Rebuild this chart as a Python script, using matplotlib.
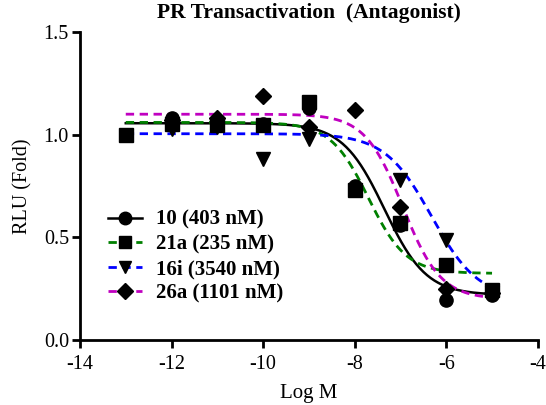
import matplotlib
matplotlib.use("Agg")
import matplotlib.pyplot as plt
import numpy as np

plt.rcParams["font.family"] = ["Liberation Serif", "DejaVu Serif"]

# concentrations (log M)
logM = [-13, -12, -11, -10, -9, -8, -7, -6, -5]

# measured RLU (fold) per compound
rlu_10 = [None, 1.08, 1.05, 1.05, 1.13, 0.75, 0.56, 0.195, 0.22]
rlu_21a = [1.00, 1.05, 1.045, 1.045, 1.16, 0.73, 0.57, 0.365, 0.245]
rlu_16i = [None, 1.03, 1.04, 0.88, 0.98, None, 0.78, 0.49, 0.23]
rlu_26a = [None, 1.07, 1.08, 1.19, 1.04, 1.12, 0.65, 0.25, 0.23]

# fitted 4PL parameters: top, bottom, logEC50, hill
fit_10 = (1.056, 0.22, -7.35, 0.95)
fit_21a = (1.06, 0.325, -7.7, 1.05)
fit_16i = (1.005, 0.20, -6.32, 0.85)
fit_26a = (1.10, 0.20, -6.95, 1.05)

labels = ["10 (403 nM)", "21a (235 nM)", "16i (3540 nM)", "26a (1101 nM)"]
colors = ["black", "#008000", "#0000ff", "#c000c0"]
markers = ["o", "s", "v", "D"]


def four_pl(x, top, bottom, ec50, hill):
    return bottom + (top - bottom) / (1 + 10 ** ((x - ec50) * hill))


fig = plt.figure(figsize=(5.46, 4.05), dpi=100)
ax = fig.add_axes([0.1465, 0.160, 0.8385, 0.761])

xs = np.linspace(-13, -5, 300)
series = [rlu_10, rlu_21a, rlu_16i, rlu_26a]
fits = [fit_10, fit_21a, fit_16i, fit_26a]

for i, (vals, fit) in enumerate(zip(series, fits)):
    ls = "-" if i == 0 else (0, (3, 2))
    lw = 1.8 if i == 0 else 2.0
    ax.plot(xs, four_pl(xs, *fit), color=colors[i], linestyle=ls, linewidth=lw, zorder=2)
    px = [x for x, v in zip(logM, vals) if v is not None]
    py = [v for v in vals if v is not None]
    ms = 8.5 if markers[i] == "D" else 9.5
    ax.plot(px, py, linestyle="none", marker=markers[i], markersize=ms,
            color="black", zorder=3)

# legend handles
handles = []
for i in range(4):
    ls = "-" if i == 0 else (0, (3, 2))
    lw = 1.8 if i == 0 else 2.0
    h, = ax.plot([], [], color=colors[i], linestyle=ls, linewidth=lw,
                 marker=markers[i], markersize=9 if i < 3 else 8,
                 markerfacecolor="black", markeredgecolor="black")
    handles.append(h)
ax.legend(handles, labels, loc="upper left", bbox_to_anchor=(0.03, 0.47),
          frameon=False, prop={"weight": "bold", "size": 15},
          handlelength=1.6, handletextpad=0.7, labelspacing=0.22, borderpad=0.2)

ax.set_xlim(-14, -4)
ax.set_ylim(0, 1.5)
ax.set_xticks([-14, -12, -10, -8, -6, -4])
ax.set_xticklabels(["-14", "-12", "-10", "-8", "-6", "-4"])
ax.set_yticks([0, 0.5, 1.0, 1.5])
ax.set_yticklabels(["0.0", "0.5", "1.0", "1.5"])
ax.tick_params(axis="both", labelsize=14.5, width=2, length=6, direction="out")
ax.tick_params(axis="x", pad=5)
ax.tick_params(axis="y", pad=2)
for s in ["top", "right"]:
    ax.spines[s].set_visible(False)
for s in ["left", "bottom"]:
    ax.spines[s].set_linewidth(2)

ax.set_xlabel("Log M", fontsize=15, labelpad=7)
ax.set_ylabel("RLU (Fold)", fontsize=14.5, labelpad=8)
ax.set_title("PR Transactivation  (Antagonist)", fontsize=15.5, fontweight="bold", pad=10)

fig.savefig("out.png", dpi=100)
